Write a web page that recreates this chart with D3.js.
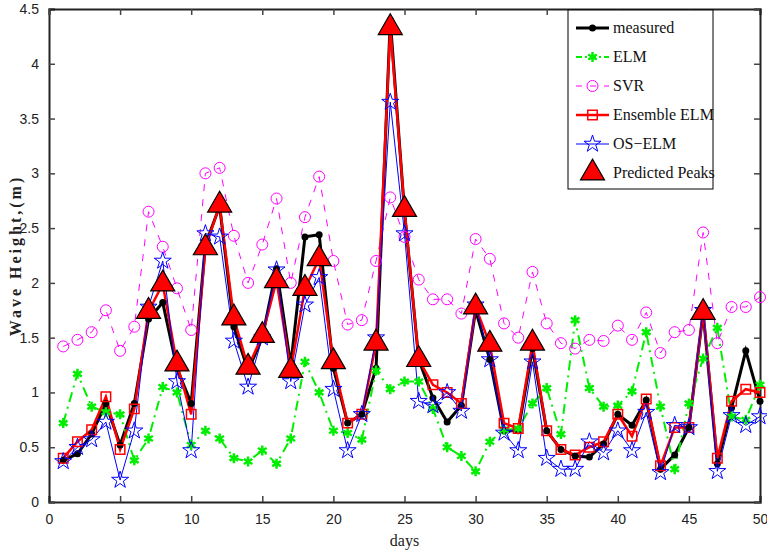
<!DOCTYPE html>
<html>
<head>
<meta charset="utf-8">
<script src="https://cdn.jsdelivr.net/npm/d3@7"></script>
<style>
  body { margin: 0; background: #fff; }
</style>
</head>
<body>
<div class="canvas"></div>
<script>
// days 1..50
const days = d3.range(1, 51);

const measured = [0.38, 0.44, 0.62, 0.9, 0.52, 0.9, 1.67, 1.82, 1.22, 0.9,
    2.35, 2.7, 1.6, 1.2, 1.5, 2.13, 1.25, 2.42, 2.44, 1.22,
    0.72, 0.8, 1.22, 4.4, 2.65, 1.3, 0.95, 0.73, 0.88, 1.75,
    1.3, 0.65, 0.65, 1.4, 0.65, 0.48, 0.42, 0.41, 0.53, 0.8,
    0.7, 0.93, 0.3, 0.43, 0.68, 1.73, 0.35, 0.86, 1.38, 0.92];

const elm = [0.72, 1.17, 0.87, 0.82, 0.8, 0.38, 0.58, 1.05, 1.0, 0.52,
    0.65, 0.58, 0.4, 0.37, 0.47, 0.35, 0.58, 1.28, 1.0, 0.65,
    0.63, 0.57, 1.2, 1.03, 1.1, 1.1, 0.85, 0.5, 0.42, 0.28,
    0.55, 0.66, 0.67, 0.9, 1.04, 0.62, 1.66, 1.04, 0.87, 0.88,
    1.01, 1.55, 0.87, 0.3, 0.9, 1.31, 1.59, 0.78, 0.75, 1.07];

const svr = [1.42, 1.48, 1.55, 1.75, 1.38, 1.6, 2.65, 2.33, 1.95, 1.57,
    3.0, 3.05, 2.43, 2.0, 2.35, 2.77, 2.0, 2.6, 2.97, 2.2,
    1.62, 1.66, 2.2, 2.78, 2.42, 2.03, 1.85, 1.85, 1.72, 2.4,
    2.22, 1.63, 1.5, 2.1, 1.63, 1.45, 1.4, 1.48, 1.47, 1.61,
    1.48, 1.73, 1.36, 1.55, 1.57, 2.46, 1.45, 1.78, 1.78, 1.87];

const ensemble = [0.4, 0.55, 0.66, 0.96, 0.48, 0.85, 1.74, 1.99, 1.26, 0.8,
    2.32, 2.71, 1.68, 1.23, 1.52, 2.02, 1.2, 1.95, 2.22, 1.28,
    0.72, 0.8, 1.45, 4.33, 2.67, 1.3, 1.07, 1.0, 0.9, 1.78,
    1.44, 0.72, 0.67, 1.45, 0.65, 0.48, 0.43, 0.5, 0.55, 0.8,
    0.6, 0.94, 0.33, 0.68, 0.68, 1.73, 0.4, 0.92, 1.03, 1.0];

const oselm = [0.37, 0.5, 0.57, 0.73, 0.2, 0.65, 1.78, 2.2, 1.1, 0.47,
    2.45, 2.42, 1.47, 1.05, 1.5, 2.12, 1.1, 1.8, 2.05, 1.03,
    0.47, 0.8, 1.5, 3.65, 2.45, 0.92, 0.88, 1.0, 0.83, 1.8,
    1.3, 0.63, 0.47, 1.28, 0.4, 0.3, 0.3, 0.55, 0.45, 0.65,
    0.47, 0.82, 0.27, 0.7, 0.68, 1.75, 0.28, 0.79, 0.7, 0.78];

// days where the ensemble prediction is marked as a peak
const peakDays = [7, 8, 9, 11, 12, 13, 14, 15, 16, 17, 18, 19, 20, 23, 24, 25, 26, 30, 31, 34, 46];

const xTicks = d3.range(0, 51, 5);
const yTicks = d3.range(0, 4.51, 0.5);

const width = 767, height = 556;
const margin = {top: 9, right: 7, bottom: 54, left: 49};
const graphWidth = width - margin.left - margin.right;
const graphHeight = height - margin.top - margin.bottom;

const svg = d3.select('.canvas')
    .append('svg')
    .attr('width', width)
    .attr('height', height);

const graph = svg.append('g')
    .attr('transform', `translate(${margin.left}, ${margin.top})`);

const x = d3.scaleLinear().domain([0, 50]).range([0, graphWidth]);
const y = d3.scaleLinear().domain([0, 4.5]).range([graphHeight, 0]);

// axes with inward ticks on all four sides
const tickFont = '"Liberation Sans", Arial, sans-serif';
const xAxis = graph.append('g')
    .attr('transform', `translate(0, ${graphHeight})`)
    .call(d3.axisBottom(x).tickValues(xTicks).tickSize(-6).tickPadding(12).tickFormat(d3.format('d')));
const yAxis = graph.append('g')
    .call(d3.axisLeft(y).tickValues(yTicks).tickSize(-6).tickPadding(10).tickFormat(d => d));
const xTop = graph.append('g')
    .call(d3.axisTop(x).tickValues(xTicks).tickSize(-6).tickFormat(''));
const yRight = graph.append('g')
    .attr('transform', `translate(${graphWidth}, 0)`)
    .call(d3.axisRight(y).tickValues(yTicks).tickSize(-6).tickFormat(''));

[xAxis, yAxis, xTop, yRight].forEach(g => {
    g.select('.domain').attr('stroke', '#222').attr('stroke-width', 2);
    g.selectAll('.tick line').attr('stroke', '#444').attr('stroke-width', 1.5);
    g.selectAll('text').attr('font-family', tickFont).attr('font-size', 14)
        .attr('fill', '#222');
});

const line = vals => d3.line()
    .x((d, i) => x(days[i]))
    .y(d => y(d))(vals);

// measured
graph.append('path').attr('d', line(measured))
    .attr('fill', 'none').attr('stroke', '#000').attr('stroke-width', 3);

// ELM
graph.append('path').attr('d', line(elm))
    .attr('fill', 'none').attr('stroke', '#00ee00').attr('stroke-width', 2)
    .attr('stroke-dasharray', '10,5,2,5');

// SVR
graph.append('path').attr('d', line(svr))
    .attr('fill', 'none').attr('stroke', '#ff00ff').attr('stroke-width', 1)
    .attr('stroke-dasharray', '7,8');

// Ensemble ELM
graph.append('path').attr('d', line(ensemble))
    .attr('fill', 'none').attr('stroke', '#ff0000').attr('stroke-width', 2.5);

// OS-ELM
graph.append('path').attr('d', line(oselm))
    .attr('fill', 'none').attr('stroke', '#0000ff').attr('stroke-width', 1);

// markers
graph.selectAll('.m-measured').data(measured).enter().append('circle')
    .attr('cx', (d, i) => x(days[i])).attr('cy', d => y(d))
    .attr('r', 3.5).attr('fill', '#000');

const asterisk = d3.symbol(d3.symbolAsterisk, 70);
graph.selectAll('.m-elm').data(elm).enter().append('path')
    .attr('d', asterisk)
    .attr('transform', (d, i) => `translate(${x(days[i])}, ${y(d)})`)
    .attr('fill', 'none').attr('stroke', '#00ee00').attr('stroke-width', 2.5);

graph.selectAll('.m-svr').data(svr).enter().append('circle')
    .attr('cx', (d, i) => x(days[i])).attr('cy', d => y(d))
    .attr('r', 5.5).attr('fill', 'none').attr('stroke', '#ff00ff').attr('stroke-width', 1);

const square = d3.symbol(d3.symbolSquare, 90);
graph.selectAll('.m-ens').data(ensemble).enter().append('path')
    .attr('d', square)
    .attr('transform', (d, i) => `translate(${x(days[i])}, ${y(d)})`)
    .attr('fill', 'none').attr('stroke', '#ff0000').attr('stroke-width', 1.5);

const star = d3.symbol(d3.symbolStar, 90);
graph.selectAll('.m-os').data(oselm).enter().append('path')
    .attr('d', star)
    .attr('transform', (d, i) => `translate(${x(days[i])}, ${y(d)})`)
    .attr('fill', 'none').attr('stroke', '#0000ff').attr('stroke-width', 1);

// predicted peaks
const tri = d3.symbol(d3.symbolTriangle, 250);
graph.selectAll('.peak').data(peakDays).enter().append('path')
    .attr('d', tri)
    .attr('transform', d => `translate(${x(d)}, ${y(ensemble[d - 1])})`)
    .attr('fill', '#ff0000').attr('stroke', '#000').attr('stroke-width', 1.2);

// axis labels
const serif = '"Liberation Serif", "Times New Roman", serif';
svg.append('text')
    .attr('x', margin.left + graphWidth / 2).attr('y', 546)
    .attr('text-anchor', 'middle')
    .attr('font-family', serif).attr('font-size', 16).attr('fill', '#222')
    .text('days');
svg.append('text')
    .attr('transform', `translate(21, ${margin.top + graphHeight / 2}) rotate(-90)`)
    .attr('text-anchor', 'middle')
    .attr('font-family', serif).attr('font-size', 16).attr('font-weight', 'bold')
    .attr('letter-spacing', 3).attr('fill', '#222')
    .text('Wave Height,(m)');

// legend
const legendItems = ['measured', 'ELM', 'SVR', 'Ensemble ELM', 'OS\u2212ELM', 'Predicted Peaks'];
const legend = svg.append('g').attr('transform', 'translate(568, 10)');
legend.append('rect')
    .attr('width', 145).attr('height', 179)
    .attr('fill', '#fff').attr('stroke', '#000').attr('stroke-width', 1);

const rowY = i => 18 + i * 29;
const item = legend.selectAll('.item').data(legendItems).enter().append('g')
    .attr('transform', (d, i) => `translate(0, ${rowY(i)})`);
item.append('text')
    .attr('x', 45).attr('y', 5)
    .attr('font-family', serif).attr('font-size', 16).attr('fill', '#111')
    .text(d => d);

const sample = (i, stroke, w, dash) => legend.append('line')
    .attr('x1', 8).attr('x2', 41).attr('y1', rowY(i)).attr('y2', rowY(i))
    .attr('stroke', stroke).attr('stroke-width', w).attr('stroke-dasharray', dash);
sample(0, '#000', 3, null);
sample(1, '#00ee00', 2, '6,3,2,3');
sample(2, '#ff00ff', 1, '6,8');
sample(3, '#ff0000', 2.5, null);
sample(4, '#0000ff', 1, null);

legend.append('circle').attr('cx', 24.5).attr('cy', rowY(0)).attr('r', 3.5).attr('fill', '#000');
legend.append('path').attr('d', asterisk).attr('transform', `translate(24.5, ${rowY(1)})`)
    .attr('fill', 'none').attr('stroke', '#00ee00').attr('stroke-width', 2.5);
legend.append('circle').attr('cx', 24.5).attr('cy', rowY(2)).attr('r', 5.5)
    .attr('fill', 'none').attr('stroke', '#ff00ff');
legend.append('path').attr('d', square).attr('transform', `translate(24.5, ${rowY(3)})`)
    .attr('fill', 'none').attr('stroke', '#ff0000').attr('stroke-width', 1.5);
legend.append('path').attr('d', star).attr('transform', `translate(24.5, ${rowY(4)})`)
    .attr('fill', 'none').attr('stroke', '#0000ff');
legend.append('path').attr('d', tri).attr('transform', `translate(24.5, ${rowY(5)})`)
    .attr('fill', '#ff0000').attr('stroke', '#000').attr('stroke-width', 1.2);
</script>
</body>
</html>
